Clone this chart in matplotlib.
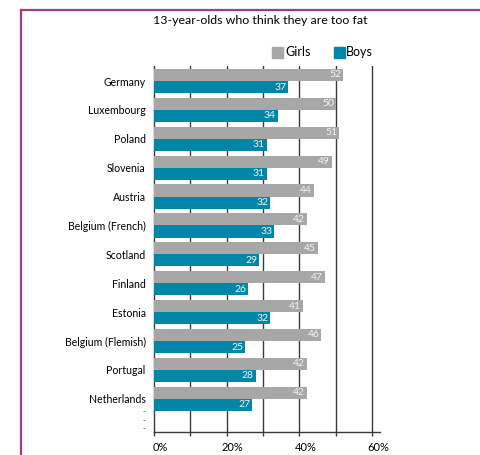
import numpy as np
import matplotlib.pyplot as plt
from matplotlib.lines import Line2D
from matplotlib.patches import Rectangle
import matplotlib.transforms as mtransforms

# Share of 13-year-olds who think they are too fat (%)
countries = ["Germany", "Luxembourg", "Poland", "Slovenia", "Austria",
             "Belgium (French)", "Scotland", "Finland", "Estonia",
             "Belgium (Flemish)", "Portugal", "Netherlands"]
girls = [52, 50, 51, 49, 44, 42, 45, 47, 41, 46, 42, 42]
boys = [37, 34, 31, 31, 32, 33, 29, 26, 32, 25, 28, 27]
xtick_labels = ["0%", "", "20%", "", "40%", "", "60%"]

GREY = "#a7a7a7"
TEAL = "#0086a8"
FRAME = "#a03d7c"

plt.rcParams['font.family'] = ['Lato', 'DejaVu Sans']

fig = plt.figure(figsize=(4.8, 4.55), dpi=100)
ax = fig.add_axes([154 / 480, 23 / 455, 226 / 480, 366 / 455])

y = np.arange(len(countries))
h = 0.42
ax.barh(y - h / 2, girls, height=h, color=GREY, zorder=3)
ax.barh(y + h / 2, boys, height=h, color=TEAL, zorder=3)

# value labels inside the bar ends
for yi, g, b in zip(y, girls, boys):
    ax.text(g - 0.5, yi - h / 2, str(g), color="#f4f4f4", ha="right",
            va="center", fontsize=7.5, zorder=4)
    ax.text(b - 0.5, yi + h / 2, str(b), color="#f4f4f4", ha="right",
            va="center", fontsize=7.5, zorder=4)

ax.set_xlim(0, 62.2)
ax.set_ylim(12.15, -0.52)

# vertical grid every 10%
for gx in range(10, 70, 10):
    ax.axvline(gx, color="#3a3a3a", lw=1.0, zorder=2)

for s in ["top", "right"]:
    ax.spines[s].set_visible(False)
ax.spines["left"].set_color("#3a3a3a")
ax.spines["bottom"].set_color("#3a3a3a")
ax.spines["left"].set_linewidth(1.0)
ax.spines["bottom"].set_linewidth(1.0)

ax.set_xticks(range(0, 70, 10))
ax.set_xticklabels(xtick_labels, fontsize=8)
ax.tick_params(axis="x", length=3, width=1, color="#3a3a3a", pad=4)
offset = mtransforms.ScaledTranslation(6 / 100, 0, fig.dpi_scale_trans)
for lbl in ax.get_xticklabels():
    lbl.set_transform(lbl.get_transform() + offset)

# country labels sit between each pair of bars
ax.set_yticks(y)
ax.set_yticklabels(countries, fontsize=7.6)
ax.tick_params(axis="y", length=0, pad=6)

# small dashes below the last row
for yd in [11.45, 11.76, 12.04]:
    ax.text(-2.3, yd, "-", ha="right", va="center", fontsize=5.5,
            color="#333333")

fig.text(260 / 480, 1 - 20 / 455, "13-year-olds who think they are too fat",
         ha="center", va="center", fontsize=8.9)

# legend
fig.patches.append(Rectangle((272 / 480, 1 - 58 / 455), 11 / 480, 11 / 455,
                             transform=fig.transFigure, color=GREY))
fig.text(285 / 480, 1 - 52 / 455, "Girls", ha="left", va="center", fontsize=9)
fig.patches.append(Rectangle((334 / 480, 1 - 58 / 455), 11 / 480, 11 / 455,
                             transform=fig.transFigure, color=TEAL))
fig.text(346 / 480, 1 - 52 / 455, "Boys", ha="left", va="center", fontsize=9)

# page frame
fig.lines.append(Line2D([21 / 480, 1], [1 - 10 / 455, 1 - 10 / 455],
                        transform=fig.transFigure, color=FRAME, lw=1.6))
fig.lines.append(Line2D([21 / 480, 21 / 480], [0, 1 - 10 / 455],
                        transform=fig.transFigure, color=FRAME, lw=1.6))

fig.savefig("out.png", dpi=100)
